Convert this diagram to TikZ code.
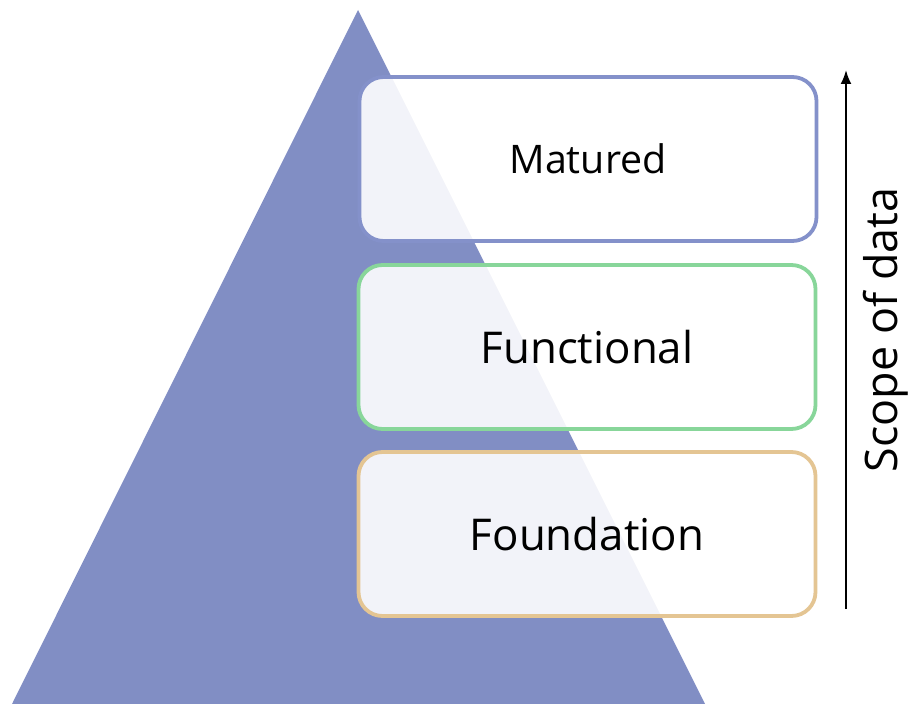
\documentclass[tikz,border=0pt]{standalone}
\usepackage{fontspec}
\setmainfont{Open Sans}
\usetikzlibrary{arrows.meta}
\definecolor{tri}{HTML}{818EC4}
\definecolor{bblue}{HTML}{8491CA}
\definecolor{bgreen}{HTML}{88D69A}
\definecolor{btan}{HTML}{E4C593}
\tikzset{
  layer/.style={draw=#1, line width=3.8bp, rounded corners=24bp, fill=white, fill opacity=0.9, text opacity=1, minimum width=457bp, minimum height=164bp, inner sep=0pt},
}
\begin{document}
\begin{tikzpicture}[x=1bp,y=-1bp]
\useasboundingbox (0,0) rectangle (908,704);
\fill[tri] (358,10) -- (705,704) -- (12,704) -- cycle;
\node[layer=bblue, font=\fontsize{39.5}{45}\selectfont] (mat) at (588,159) {Matured};
\node[layer=bgreen, font=\fontsize{44}{50}\selectfont] (fun) at (587,347) {Functional};
\node[layer=btan, font=\fontsize{44}{50}\selectfont] (fou) at (587,534) {Foundation};
\coordinate (a1) at (846,609);
\coordinate (a2) at (846,70);
\draw[line width=2bp, -{Latex[length=14bp,width=11bp]}] (a1) -- (a2);
\node[rotate=90, font=\fontsize{45}{52}\selectfont] (scope) at (886,330) {Scope of data};
\end{tikzpicture}
\end{document}
